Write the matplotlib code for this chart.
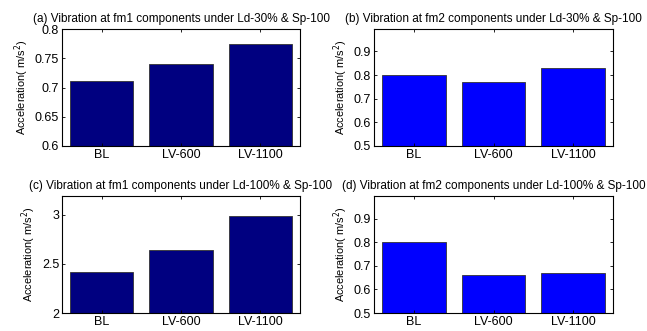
import numpy as np
import matplotlib.pyplot as plt

plt.rcParams['font.family'] = ['Liberation Sans', 'DejaVu Sans']

cats = ['BL', 'LV-600', 'LV-1100']
vals_a = [0.711, 0.741, 0.775]
vals_b = [0.802, 0.770, 0.831]
vals_c = [2.42, 2.64, 2.99]
vals_d = [0.800, 0.661, 0.669]

titles = ['(a) Vibration at fm1 components under Ld-30% & Sp-100',
          '(b) Vibration at fm2 components under Ld-30% & Sp-100',
          '(c) Vibration at fm1 components under Ld-100% & Sp-100',
          '(d) Vibration at fm2 components under Ld-100% & Sp-100']
ylims = [(0.6, 0.8), (0.5, 0.995), (2, 3.19), (0.5, 0.997)]
yticks = [[0.6, 0.65, 0.7, 0.75, 0.8], [0.5, 0.6, 0.7, 0.8, 0.9],
          [2, 2.5, 3], [0.5, 0.6, 0.7, 0.8, 0.9]]
ytlabels = [['0.6', '0.65', '0.7', '0.75', '0.8'], ['0.5', '0.6', '0.7', '0.8', '0.9'],
            ['2', '2.5', '3'], ['0.5', '0.6', '0.7', '0.8', '0.9']]
colors = ['#000080', '#0000ff', '#000080', '#0000ff']

W, H = 647, 331
fig = plt.figure(figsize=(W / 100, H / 100), dpi=100)
# axes boxes in pixels: left, top, right, bottom
boxes = [(62, 29, 300, 146), (374, 29, 613, 146),
         (62, 196, 300, 313), (374, 196, 613, 313)]

x = np.arange(1, 4)
for vals, t, yl, yt, ytl, c, (l, tp, r, b) in zip(
        [vals_a, vals_b, vals_c, vals_d], titles, ylims, yticks, ytlabels, colors, boxes):
    ax = fig.add_axes([l / W, 1 - b / H, (r - l) / W, (b - tp) / H])
    ax.bar(x, vals, width=0.8, color=c, edgecolor='#333333', linewidth=0.6)
    ax.set_xlim(0.5, 3.5)
    ax.set_ylim(*yl)
    ax.set_xticks(x)
    ax.set_xticklabels(cats, fontsize=9)
    ax.set_yticks(yt)
    ax.set_yticklabels(ytl, fontsize=9)
    ax.tick_params(direction='in', top=True, right=True, length=2.5, width=0.6, pad=2)
    for s in ax.spines.values():
        s.set_linewidth(0.8)
    ax.set_title(t, fontsize=8.5, pad=5)
    ax.set_ylabel('Acceleration( m/s$^2$)', fontsize=7.9, labelpad=3)

fig.savefig('out.png', dpi=100)
